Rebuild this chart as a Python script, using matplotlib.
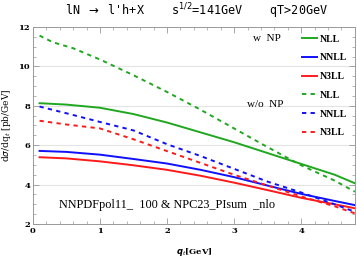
import numpy as np
import matplotlib
matplotlib.use("Agg")
from matplotlib import pyplot as plt
from matplotlib.ticker import MultipleLocator

# q_t grid (GeV)
qt = [0.1, 0.5, 1.0, 1.5, 2.0, 2.5, 3.0, 3.5, 4.0, 4.5, 4.8]

# with NP
nll_np = [8.13, 8.06, 7.90, 7.58, 7.15, 6.65, 6.15, 5.60, 5.05, 4.50, 4.07]
nnll_np = [5.71, 5.66, 5.52, 5.30, 5.07, 4.75, 4.38, 3.95, 3.53, 3.17, 2.96]
n3ll_np = [5.39, 5.33, 5.18, 4.98, 4.75, 4.45, 4.10, 3.72, 3.33, 3.00, 2.80]

# without NP
qt_nll = [0.1, 0.3, 0.6, 1.0, 1.5, 2.0, 2.5, 3.0, 3.5, 4.0, 4.5, 4.8]
nll_nonp = [11.56, 11.22, 10.92, 10.35, 9.55, 8.70, 7.80, 6.85, 5.90, 4.98, 4.20, 3.64]
nnll_nonp = [7.96, 7.62, 7.18, 6.75, 6.05, 5.45, 4.80, 4.15, 3.60, 3.00, 2.62]
n3ll_nonp = [7.24, 7.05, 6.85, 6.30, 5.70, 5.10, 4.50, 3.95, 3.40, 2.90, 2.54]

green = '#1fa81f'
blue = '#1010ff'
red = '#ff1a1a'

fig = plt.figure(figsize=(3.57, 2.59), dpi=100)
ax = fig.add_axes([0.092, 0.135, 0.902, 0.761])

ax.plot(qt, nll_np, color=green, lw=1.4, label='NLL')
ax.plot(qt, nnll_np, color=blue, lw=1.4, label='NNLL')
ax.plot(qt, n3ll_np, color=red, lw=1.4, label='N3LL')
ax.plot(qt_nll, nll_nonp, color=green, lw=1.4, ls=(0, (2.2, 2.2)), label='NLL')
ax.plot(qt, nnll_nonp, color=blue, lw=1.4, ls=(0, (2.2, 2.2)), label='NNLL')
ax.plot(qt, n3ll_nonp, color=red, lw=1.4, ls=(0, (2.2, 2.2)), label='N3LL')

ax.set_xlim(0, 4.8)
ax.set_ylim(2, 12)
ax.xaxis.set_major_locator(MultipleLocator(1))
ax.xaxis.set_minor_locator(MultipleLocator(0.2))
ax.yaxis.set_major_locator(MultipleLocator(2))
ax.yaxis.set_minor_locator(MultipleLocator(0.5))
for y in [4, 6, 8, 10]:
    ax.axhline(y, color='#e4e4e4', lw=0.8, zorder=0)
ax.tick_params(which='both', direction='in', top=True, right=True, color='#999999')
ax.tick_params(which='major', length=4, width=0.6, labelsize=6, pad=2)
ax.tick_params(which='minor', length=2, width=0.5)
for lab in ax.get_xticklabels() + ax.get_yticklabels():
    lab.set_family('DejaVu Serif')
    lab.set_fontweight('bold')
for s in ax.spines.values():
    s.set_color('#999999')
    s.set_linewidth(0.7)

ax.set_xlabel(r'$\boldsymbol{q}_t$[GeV]', fontsize=6, family='DejaVu Serif',
              fontweight='bold', labelpad=8)
ax.set_ylabel(r'd$\sigma$/dq$_t$ [pb/GeV]', fontsize=6.5, family='DejaVu Serif', labelpad=4)

fig.text(0.55, 0.958, r"lN $\rightarrow$ l'h+X    s$^{1/2}$=141GeV    qT>20GeV",
         ha='center', va='center', fontsize=8.5, family='DejaVu Sans Mono')

ax.text(0.685, 0.94, 'w  NP', transform=ax.transAxes, fontsize=8,
        family='Liberation Serif', ha='left', va='center')
ax.text(0.665, 0.605, 'w/o  NP', transform=ax.transAxes, fontsize=8,
        family='Liberation Serif', ha='left', va='center')
ax.text(0.416, 0.096, 'NNPDFpol11_  100 & NPC23_PIsum  _nlo', transform=ax.transAxes,
        fontsize=8.8, family='Liberation Serif', ha='center', va='center')

leg = ax.legend(loc='upper left', bbox_to_anchor=(0.81, 1.005), frameon=False,
                handlelength=1.5, handletextpad=0.3, labelspacing=1.0,
                prop={'family': 'Liberation Serif', 'weight': 'bold', 'size': 7})

fig.savefig('out.png', dpi=100)
